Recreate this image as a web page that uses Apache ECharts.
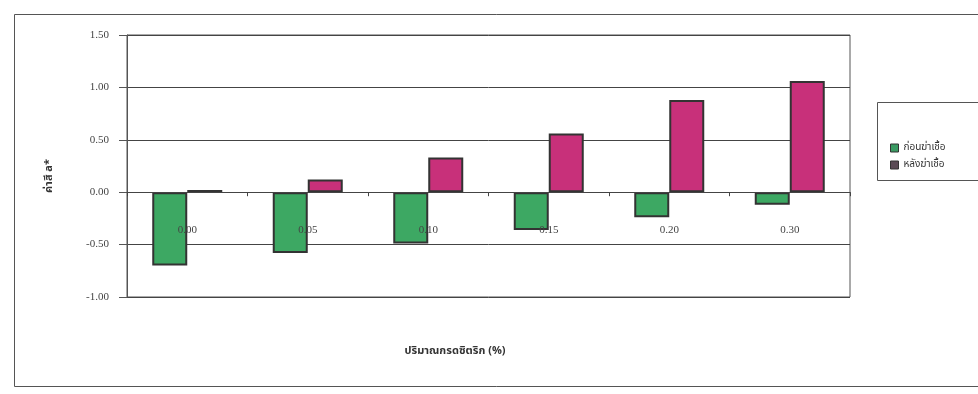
<!DOCTYPE html>
<html>
<head>
<meta charset="utf-8">
<script src="https://cdn.jsdelivr.net/npm/echarts@6/dist/echarts.min.js"></script>
<style>
  html, body { margin: 0; padding: 0; background: #fff; }
  #chart { width: 978px; height: 394px; }
</style>
</head>
<body>
<div id="chart"></div>
<script>
// Citric acid level (%) on the x axis
const categories = ['0.00', '0.05', '0.10', '0.15', '0.20', '0.30'];
// a* colour value before and after sterilisation
const beforeValues = [-0.70, -0.58, -0.49, -0.36, -0.24, -0.12];
const afterValues = [0.02, 0.12, 0.33, 0.56, 0.88, 1.06];
const seriesNames = ['ก่อนฆ่าเชื้อ', 'หลังฆ่าเชื้อ'];
const yTicks = { min: -1.0, max: 1.5, step: 0.5 };

const chart = echarts.init(document.getElementById('chart'));
const serif = '"Liberation Serif", "DejaVu Serif", serif';
const thai = '"Noto Sans Thai", "Noto Sans", "DejaVu Sans", sans-serif';

chart.setOption({
  animation: false,
  backgroundColor: '#ffffff',
  grid: {
    left: 127, right: 128, top: 35, bottom: 97,
    show: true, borderColor: '#555', borderWidth: 1, backgroundColor: 'transparent'
  },
  legend: {
    orient: 'vertical',
    left: 885, top: 138,
    itemWidth: 8, itemHeight: 8, itemGap: 7,
    icon: 'rect',
    textStyle: { fontFamily: thai, fontSize: 10, color: '#333' },
    data: [
      { name: seriesNames[0], itemStyle: { color: '#3a9a62', borderColor: '#333', borderWidth: 1 } },
      { name: seriesNames[1], itemStyle: { color: '#5a4a55', borderColor: '#333', borderWidth: 1 } }
    ]
  },
  xAxis: {
    type: 'category',
    data: categories,
    z: 5,
    axisLine: { onZero: true, lineStyle: { color: '#444', width: 1 } },
    axisTick: { show: true, length: 4, lineStyle: { color: '#444' } },
    axisLabel: { margin: -72, fontFamily: serif, fontSize: 11, color: '#444' },
    splitLine: { show: false }
  },
  yAxis: {
    type: 'value',
    min: yTicks.min, max: yTicks.max, interval: yTicks.step,
    axisLine: { show: true, onZero: false, lineStyle: { color: '#555' } },
    axisTick: { show: true, length: 8, lineStyle: { color: '#555' } },
    axisLabel: {
      margin: 18, fontFamily: serif, fontSize: 11, color: '#444',
      formatter: v => v.toFixed(2)
    },
    splitLine: { show: true, lineStyle: { color: '#444', width: 1 } }
  },
  series: [
    {
      name: seriesNames[0], type: 'bar', data: beforeValues,
      barWidth: 35, barGap: '0%',
      itemStyle: { color: '#3da863', borderColor: '#333', borderWidth: 2 }
    },
    {
      name: seriesNames[1], type: 'bar', data: afterValues,
      barWidth: 35, barGap: '0%',
      itemStyle: { color: '#c8307a', borderColor: '#333', borderWidth: 2 }
    }
  ],
  graphic: [
    {
      type: 'rect', left: 12, top: 12,
      shape: { width: 980, height: 372 },
      style: { fill: 'none', stroke: '#555', lineWidth: 1 }, silent: true
    },
    {
      type: 'rect', left: 875, top: 100,
      shape: { width: 110, height: 78 },
      style: { fill: 'none', stroke: '#555', lineWidth: 1 }, silent: true
    },
    {
      type: 'text', rotation: Math.PI / 2,
      style: { text: 'ค่าสี a*', font: 'bold 11px ' + thai, fill: '#333', textAlign: 'center', textVerticalAlign: 'middle' },
      x: 50, y: 176
    },
    {
      type: 'text',
      style: { text: 'ปริมาณกรดซิตริก (%)', font: 'bold 11px ' + thai, fill: '#333', textAlign: 'center', textVerticalAlign: 'middle' },
      x: 455, y: 352
    }
  ]
});
</script>
</body>
</html>
